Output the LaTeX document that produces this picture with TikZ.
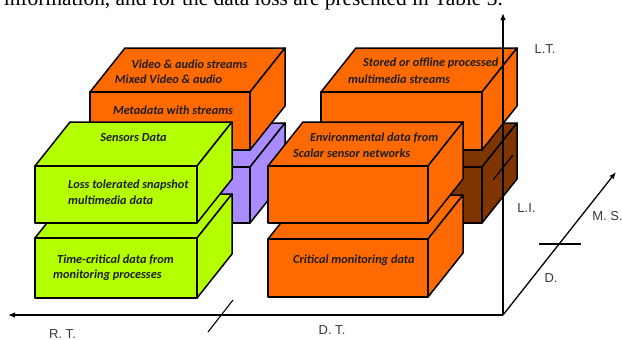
\documentclass[tikz,border=0pt]{standalone}
\usepackage{fontspec}
\setmainfont{Liberation Serif}
\newfontfamily\boxfont{Carlito}
\newfontfamily\axisfont{Liberation Sans}
\usetikzlibrary{arrows.meta}
\definecolor{boxorange}{HTML}{FF6A00}
\definecolor{boxlime}{HTML}{B4FF00}
\definecolor{boxpurple}{HTML}{A98CFF}
\definecolor{boxbrown}{HTML}{7F3500}
\definecolor{boxtextcol}{HTML}{1E1E1E}
\definecolor{axiscol}{HTML}{3A3A3A}
\tikzset{
  facestyle/.style={draw=black, line width=1.5pt, line join=round},
  boxtext/.style={font=\boxfont\bfseries\itshape\fontsize{12.3}{14}\selectfont, text=boxtextcol, inner sep=0pt},
  axislabel/.style={font=\axisfont\fontsize{13}{15}\selectfont, text=axiscol, inner sep=0pt},
  axisline/.style={line width=1.3pt, -{Latex[length=7pt,width=5.5pt]}},
  tickline/.style={line width=1.1pt},
  pagetext/.style={font=\fontsize{21.4}{24}\selectfont, inner sep=0pt},
}
\newcommand\cuboid[5]{%
  \filldraw[facestyle,fill=#1] (#2,#3) -- ++(35,-44) -- ++(#4,0) -- ++(-35,44) -- cycle;
  \filldraw[facestyle,fill=#1] ({#2+#4},#3) -- ++(35,-44) -- ++(0,#5) -- ++(-35,44) -- cycle;
  \filldraw[facestyle,fill=#1] (#2,#3) rectangle ++(#4,#5);
}
\begin{document}
\begin{tikzpicture}[x=1pt,y=-1pt]
\useasboundingbox (0,0) rectangle (622,340);
\clip (0,0) rectangle (622,340);
\fill[white] (0,0) rectangle (622,340);

% cut-off line of the page text above the figure
\node[pagetext, anchor=base east] (page) at (503,5.5) {information, and for the data loss are presented in Table 3.};

% back layer, lower row
\cuboid{boxpurple}{90}{167}{160}{56}
\cuboid{boxbrown}{321}{167}{161}{56}
% back layer, upper row
\cuboid{boxorange}{90}{92}{160}{58}
\cuboid{boxorange}{321}{92}{161}{58}
% front layer, lower row
\cuboid{boxlime}{35}{238}{162}{60}
\cuboid{boxorange}{268}{239}{160}{58}
% front layer, upper row
\cuboid{boxlime}{35}{166}{162}{57}
\cuboid{boxorange}{268}{166}{160}{57}

% texts
\node[boxtext] (va) at (189.5,64) {Video \& audio streams};
\node[boxtext] (mv) at (168.5,79) {Mixed Video \& audio};
\node[boxtext] (md) at (173,110) {Metadata with streams};
\node[boxtext] (sd) at (133.5,138) {Sensors Data};
\node[boxtext, anchor=west] (lt1) at (68,185) {Loss tolerated snapshot};
\node[boxtext, anchor=west] (lt2) at (68,200) {multimedia data};
\node[boxtext, anchor=west] (tc1) at (57,260) {Time-critical data from};
\node[boxtext, anchor=west] (tc2) at (53,275) {monitoring processes};
\node[boxtext, anchor=west] (so1) at (363,63) {Stored or offline processed};
\node[boxtext, anchor=west] (so2) at (348,79) {multimedia streams};
\node[boxtext, anchor=west] (en1) at (310,138) {Environmental data from};
\node[boxtext, anchor=west] (en2) at (293,153) {Scalar sensor networks};
\node[boxtext, anchor=west] (cm) at (293,260) {Critical monitoring data};

% axes
\coordinate (O) at (503,315);
\coordinate (LTend) at (503,13);
\coordinate (RTend) at (8,315);
\coordinate (MSend) at (616,172);
\draw[axisline] (O) -- (LTend);
\draw[axisline] (O) -- (RTend);
\draw[axisline] (O) -- (MSend);

% ticks
\coordinate (t1a) at (208,332); \coordinate (t1b) at (233,300);
\coordinate (t2a) at (493,180); \coordinate (t2b) at (513,155);
\coordinate (t3a) at (539,244); \coordinate (t3b) at (581,244);
\draw[tickline] (t1a) -- (t1b);
\draw[tickline] (t2a) -- (t2b);
\draw[tickline] (t3a) -- (t3b);

% axis labels
\node[axislabel, anchor=base] (lLT) at (545,53) {L.T.};
\node[axislabel, anchor=base] (lLI) at (526.5,212) {L.I.};
\node[axislabel, anchor=base] (lMS) at (607.5,220) {M. S.};
\node[axislabel, anchor=base] (lD) at (551,282) {D.};
\node[axislabel, anchor=base] (lDT) at (332,334) {D. T.};
\node[axislabel, anchor=base] (lRT) at (62.5,338.5) {R. T.};
\end{tikzpicture}
\end{document}
